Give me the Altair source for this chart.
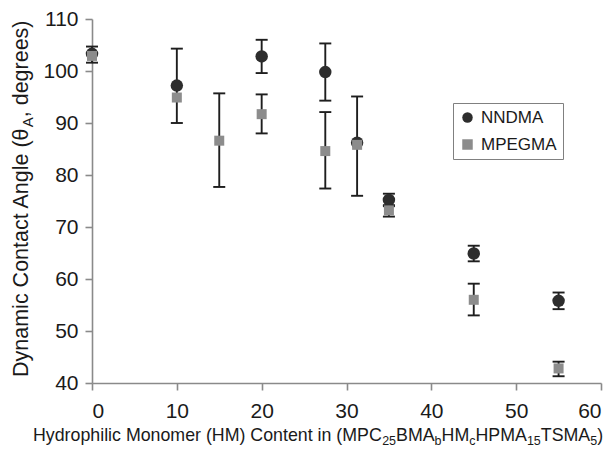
import altair as alt
import pandas as pd

# ---------------- data ----------------
series_names = ["NNDMA", "MPEGMA"]

nn_x = [0, 10, 20, 27.5, 31.25, 35, 45, 55]
nn_y = [103.3, 97.2, 102.8, 99.8, 86.2, 75.2, 64.9, 55.8]
nn_lo = [101.6, 90.0, 99.6, 94.3, 76.0, 74.2, 63.4, 54.2]
nn_hi = [104.7, 104.3, 106.0, 105.3, 95.1, 76.4, 66.4, 57.4]

mp_x = [0, 10, 15, 20, 27.5, 31.25, 35, 45, 55]
mp_y = [102.9, 94.9, 86.6, 91.7, 84.6, 85.8, 73.2, 56.0, 42.8]
mp_lo = [None, None, 77.7, 88.0, 77.4, None, 72.0, 53.0, 41.3]
mp_hi = [None, None, 95.7, 95.5, 92.1, None, 74.0, 59.1, 44.1]

x_ticks = [0, 10, 20, 30, 40, 50, 60]
y_ticks = [40, 50, 60, 70, 80, 90, 100, 110]

x_title_parts = [("Hydrophilic Monomer (HM) Content in (MPC", False), ("25", True),
                 ("BMA", False), ("b", True), ("HM", False), ("c", True),
                 ("HPMA", False), ("15", True), ("TSMA", False), ("5", True), (")", False)]
y_title_parts = [("Dynamic Contact Angle (\u03b8", False), ("A", True), (", degrees)", False)]

# ---------------- tables ----------------
pts = pd.DataFrame(
    [{"series": "NNDMA", "x": a, "y": b} for a, b in zip(nn_x, nn_y)]
    + [{"series": "MPEGMA", "x": a, "y": b} for a, b in zip(mp_x, mp_y)]
)
err_rows = []
for s, xs_, los, his in [("NNDMA", nn_x, nn_lo, nn_hi), ("MPEGMA", mp_x, mp_lo, mp_hi)]:
    for a, lo, hi in zip(xs_, los, his):
        if lo is not None:
            err_rows.append({"series": s, "x": a, "lo": lo, "hi": hi})
err = pd.DataFrame(err_rows)

FONT = "Liberation Sans"
W, H = 509, 364

xs = alt.Scale(domain=[0, 60], nice=False, zero=False)
ys = alt.Scale(domain=[40, 110], nice=False, zero=False)

axis_common = dict(grid=False, domainColor="#8a8a8a", tickColor="#8a8a8a",
                   domainWidth=1.6, tickWidth=1.6, tickSize=7,
                   labelFont=FONT, labelFontSize=21, labelColor="#1a1a1a", title=None)

x_enc = alt.X("x:Q", scale=xs, axis=alt.Axis(values=x_ticks, labelPadding=10, **axis_common))
y_axis = alt.Axis(values=y_ticks, labelPadding=7, **axis_common)

ERR_COLOR = "#1e1e1e"
bars = alt.Chart(err).mark_rule(color=ERR_COLOR, strokeWidth=1.9).encode(
    x=x_enc, y=alt.Y("lo:Q", scale=ys, axis=y_axis), y2="hi:Q")
cap_lo = alt.Chart(err).mark_rule(color=ERR_COLOR, strokeWidth=1.9, xOffset=-6, x2Offset=6).encode(
    x=alt.X("x:Q", scale=xs), x2="x", y=alt.Y("lo:Q", scale=ys))
cap_hi = alt.Chart(err).mark_rule(color=ERR_COLOR, strokeWidth=1.9, xOffset=-6, x2Offset=6).encode(
    x=alt.X("x:Q", scale=xs), x2="x", y=alt.Y("hi:Q", scale=ys))

color = alt.Color("series:N", scale=alt.Scale(domain=series_names, range=["#2d2d2d", "#8c8c8c"]),
                  legend=alt.Legend(orient="none", legendX=361, legendY=84, title=None,
                                    strokeColor="#808080", fillColor="white", padding=6,
                                    labelFont=FONT, labelFontSize=17, labelColor="#1a1a1a",
                                    symbolSize=110, rowPadding=9, labelOffset=5,
                                    symbolStrokeWidth=0))
shape = alt.Shape("series:N", scale=alt.Scale(domain=series_names, range=["circle", "square"]))

circles = alt.Chart(pts).transform_filter(alt.datum.series == "NNDMA").mark_point(
    filled=True, opacity=1, size=155).encode(
    x=alt.X("x:Q", scale=xs), y=alt.Y("y:Q", scale=ys), color=color, shape=shape)
squares = alt.Chart(pts).transform_filter(alt.datum.series == "MPEGMA").mark_point(
    filled=True, opacity=1, size=100).encode(
    x=alt.X("x:Q", scale=xs), y=alt.Y("y:Q", scale=ys), color=color, shape=shape)

# ---------------- composed axis titles with subscripts ----------------
CW = {' ': 278, '(': 333, ')': 333, ',': 278, '1': 556, '2': 556, '5': 556,
      'A': 667, 'B': 667, 'C': 722, 'D': 722, 'H': 722, 'M': 833, 'P': 667, 'S': 667,
      'T': 611, 'a': 556, 'b': 556, 'c': 500, 'd': 556, 'e': 556, 'g': 556, 'h': 556,
      'i': 222, 'l': 222, 'm': 833, 'n': 556, 'o': 556, 'p': 556, 'r': 333, 's': 500,
      't': 278, 'y': 500, '\u03b8': 556}


def text_width(s, size):
    return sum(CW.get(ch, 556) for ch in s) * size / 1000.0


def title_layers(parts, size, sub_size, sub_shift, x0, y0, vertical):
    layers = []
    cur = 0.0
    for txt, sub in parts:
        fs = sub_size if sub else size
        if vertical:
            px, py, ang = x0 + (sub_shift if sub else 0), y0 - cur, 270
        else:
            px, py, ang = x0 + cur, y0 + (sub_shift if sub else 0), 0
        layers.append(
            alt.Chart(alt.Data(values=[{"k": 1}])).mark_text(
                text=txt, font=FONT, fontSize=fs, color="#1a1a1a", align="left",
                baseline="alphabetic", angle=ang).encode(x=alt.value(px), y=alt.value(py)))
        cur += text_width(txt, fs)
    return layers


xt = title_layers(x_title_parts, 17.8, 12.5, 3.5, -59, 422, False)
yt = title_layers(y_title_parts, 21.5, 15, 4.5, -64, 358, True)

chart = alt.layer(bars, cap_lo, cap_hi, circles, squares, *xt, *yt).properties(
    width=W, height=H,
    padding={"left": 84, "top": 11, "right": 5, "bottom": 66},
    autosize=alt.AutoSizeParams(type="none"),
).configure_view(stroke=None)

chart.save("out.html", embed_options={"renderer": "svg", "actions": False})
